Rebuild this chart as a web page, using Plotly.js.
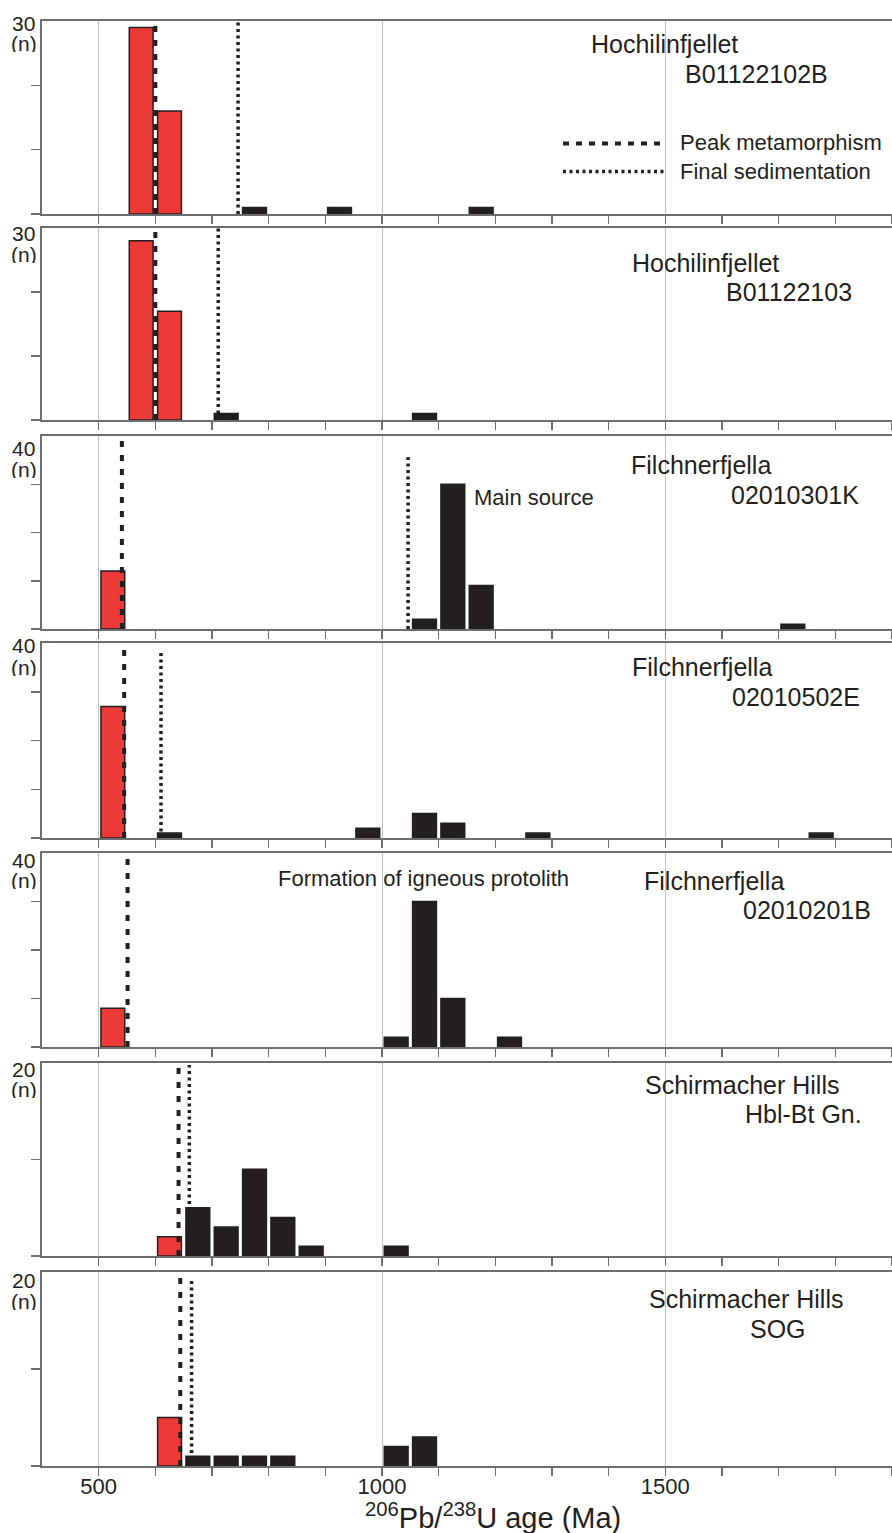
<!DOCTYPE html>
<html><head><meta charset="utf-8">
<script src="https://cdn.plot.ly/plotly-3.0.1.min.js"></script>
<style>html,body{margin:0;padding:0;background:#fff}</style>
</head><body><div id="chart" style="width:892px;height:1533px"></div>
<script>
// ---------------- data ----------------
const sampleSites = ['Hochilinfjellet','Hochilinfjellet','Filchnerfjella','Filchnerfjella','Filchnerfjella','Schirmacher Hills','Schirmacher Hills'];
const sampleIds = ['B01122102B','B01122103','02010301K','02010502E','02010201B','Hbl-Bt Gn.','SOG'];
const maxCount = [30,30,40,40,40,20,20];
// metamorphic (red) bins: bin-centre ages (Ma) and counts
const redBinAges = [[575,625],[575,625],[525],[525],[525],[625],[625]];
const redBinCounts = [[29,16],[28,17],[12],[27],[8],[2],[5]];
// detrital / inherited (black) bins
const blackBinAges = [[775,925,1175],[725,1075],[1075,1125,1175,1725],[625,975,1075,1125,1275,1775],[1025,1075,1125,1225],[675,725,775,825,875,1025],[675,725,775,825,1025,1075]];
const blackBinCounts = [[1,1,1],[1,1],[2,30,9,1],[1,2,5,3,1,1],[2,30,10,2],[5,3,9,4,1,1],[1,1,1,1,2,3]];
const peakMetamorphismAge = [600,600,541,545,551,641,644];
const finalSedimentationAge = [746,711,1046,610,null,660,664];
const xTickValues = [500,1000,1500];
const xTickLabels = ['500','1000','1500'];
const legendLabels = ['Peak metamorphism','Final sedimentation'];
const noteMainSource = 'Main source';
const noteProtolith = 'Formation of igneous protolith';
const xTitle = '<sup>206</sup>Pb/<sup>238</sup>U age (Ma)';

// ---------------- layout geometry ----------------
const W = 892, H = 1533, ML = 42, MT = 21, MB = 67;
const panelTopPx = [21,228,436,643,853,1063,1272];
const panelBottomPx = [214,420,629,838,1047,1256,1466];
const sedLineTopFrac = [1,1,0.907,0.957,null,0.99,0.955];
const plotH = H - MT - MB, plotW = W - ML;
const px2x = px => (px - ML) / plotW;
const px2y = py => (H - MB - py) / plotH;

const FONT = 'Liberation Sans, Arial, Helvetica, sans-serif';
const INK = '#231f20';
const RED = '#ee3a37';
const AXIS = '#6e6e6e';
const BAR_W = 42;

const traces = [];
const layout = {
  width: W, height: H,
  margin: {l: ML, r: 0, t: MT, b: MB, pad: 0},
  paper_bgcolor: '#ffffff', plot_bgcolor: '#ffffff',
  showlegend: false, barmode: 'overlay',
  font: {family: FONT, color: INK},
  shapes: [], annotations: []
};

const minorTicks = [];
for (let a = 500; a <= 1900; a += 100) minorTicks.push(a);

for (let i = 0; i < 7; i++) {
  const n = i + 1;
  const xa = 'x' + (n === 1 ? '' : n), ya = 'y' + (n === 1 ? '' : n);
  const xk = 'xaxis' + (n === 1 ? '' : n), yk = 'yaxis' + (n === 1 ? '' : n);
  traces.push({type: 'bar', x: redBinAges[i], y: redBinCounts[i], width: BAR_W,
    xaxis: xa, yaxis: ya, marker: {color: RED, line: {color: INK, width: 1.5}},
    name: sampleIds[i] + ' metamorphic', hoverinfo: 'x+y'});
  traces.push({type: 'bar', x: blackBinAges[i], y: blackBinCounts[i], width: BAR_W,
    xaxis: xa, yaxis: ya, marker: {color: INK, line: {color: INK, width: 1.5}},
    name: sampleIds[i] + ' detrital', hoverinfo: 'x+y'});

  const yTicks = [];
  for (let v = 0; v < maxCount[i]; v += 10) yTicks.push(v);

  layout[xk] = {
    domain: [0, 1], range: [400, 1900], anchor: ya, fixedrange: true,
    showline: true, linecolor: AXIS, linewidth: 2, mirror: true,
    ticks: 'outside', ticklen: 8, tickwidth: 1.5, tickcolor: AXIS,
    tickmode: 'array', tickvals: xTickValues, ticktext: xTickLabels,
    showticklabels: n === 7, ticklabelstandoff: -8,
    tickfont: {size: 22, color: INK, family: FONT},
    showgrid: true, gridcolor: '#c2c2c2', gridwidth: 1, zeroline: false,
    minor: {tickmode: 'array', tickvals: minorTicks, ticks: 'outside', ticklen: 8,
            tickwidth: 1.5, tickcolor: AXIS, showgrid: false}
  };
  layout[yk] = {
    domain: [px2y(panelBottomPx[i]), px2y(panelTopPx[i])], range: [0, maxCount[i]],
    anchor: xa, fixedrange: true,
    showline: true, linecolor: AXIS, linewidth: 2, mirror: true,
    ticks: 'outside', ticklen: 9, tickwidth: 1.5, tickcolor: AXIS,
    tickmode: 'array', tickvals: yTicks, showticklabels: false,
    showgrid: false, zeroline: false
  };

  // peak metamorphism (dashed)
  layout.shapes.push({type: 'line', xref: xa, yref: ya,
    x0: peakMetamorphismAge[i], x1: peakMetamorphismAge[i], y0: 0, y1: maxCount[i],
    line: {color: INK, width: 4, dash: '6px,8px'}});
  // final sedimentation (dotted)
  if (finalSedimentationAge[i] !== null) {
    layout.shapes.push({type: 'line', xref: xa, yref: ya,
      x0: finalSedimentationAge[i], x1: finalSedimentationAge[i], y0: 0,
      y1: maxCount[i] * sedLineTopFrac[i],
      line: {color: INK, width: 3.5, dash: '3px,3.5px'}});
  }
}

// count labels on y axes
const countLabelPx = [23,233,448,645,859.5,1069,1280];
const nLabelPx = [42.5,254,469,667,880,1089,1301];
for (let i = 0; i < 7; i++) {
  layout.annotations.push({xref: 'paper', yref: 'paper', x: px2x(35.5), y: px2y(countLabelPx[i]),
    xanchor: 'right', yanchor: 'middle', showarrow: false, text: String(maxCount[i]),
    height: 18, valign: 'middle', borderpad: 0,
    font: {size: 21, color: INK, family: FONT}});
  layout.annotations.push({xref: 'paper', yref: 'paper', x: px2x(38), y: px2y(nLabelPx[i]),
    xanchor: 'right', yanchor: 'middle', showarrow: false, text: '(n)',
    height: 18, valign: 'middle', borderpad: 0,
    font: {size: 21, color: INK, family: FONT}});
}

// sample labels
const siteLabelPx = [[589,44],[630,263],[629,465],[630,667],[642,881],[643,1085],[647,1299]];
const idLabelPx = [[683,74],[724,292],[729,495],[730,697],[741,910],[743,1114],[748,1329]];
for (let i = 0; i < 7; i++) {
  layout.annotations.push({xref: 'paper', yref: 'paper', x: px2x(siteLabelPx[i][0]), y: px2y(siteLabelPx[i][1]),
    xanchor: 'left', yanchor: 'middle', showarrow: false, text: sampleSites[i],
    font: {size: 25, color: INK, family: FONT}});
  layout.annotations.push({xref: 'paper', yref: 'paper', x: px2x(idLabelPx[i][0]), y: px2y(idLabelPx[i][1]),
    xanchor: 'left', yanchor: 'middle', showarrow: false, text: sampleIds[i],
    font: {size: 25, color: INK, family: FONT}});
}

// notes
layout.annotations.push({xref: 'paper', yref: 'paper', x: px2x(472), y: px2y(497),
  xanchor: 'left', yanchor: 'middle', showarrow: false, text: noteMainSource,
  font: {size: 22, color: INK, family: FONT}});
layout.annotations.push({xref: 'paper', yref: 'paper', x: px2x(276), y: px2y(878),
  xanchor: 'left', yanchor: 'middle', showarrow: false, text: noteProtolith,
  font: {size: 22, color: INK, family: FONT}});

// legend (drawn inside top panel)
layout.shapes.push({type: 'line', xref: 'paper', yref: 'paper',
  x0: px2x(563), x1: px2x(667), y0: px2y(143.5), y1: px2y(143.5),
  line: {color: INK, width: 4, dash: '6px,7px'}});
layout.shapes.push({type: 'line', xref: 'paper', yref: 'paper',
  x0: px2x(563), x1: px2x(667), y0: px2y(171.5), y1: px2y(171.5),
  line: {color: INK, width: 3.5, dash: '3px,3.5px'}});
layout.annotations.push({xref: 'paper', yref: 'paper', x: px2x(678), y: px2y(143),
  xanchor: 'left', yanchor: 'middle', showarrow: false, text: legendLabels[0],
  font: {size: 22, color: INK, family: FONT}});
layout.annotations.push({xref: 'paper', yref: 'paper', x: px2x(678), y: px2y(171),
  xanchor: 'left', yanchor: 'middle', showarrow: false, text: legendLabels[1],
  font: {size: 22, color: INK, family: FONT}});

// x-axis title
layout.annotations.push({xref: 'paper', yref: 'paper', x: px2x(493), y: px2y(1516),
  xanchor: 'center', yanchor: 'middle', showarrow: false, text: xTitle,
  font: {size: 29, color: INK, family: FONT}});

Plotly.newPlot('chart', traces, layout, {staticPlot: true, displayModeBar: false});
</script>
</body></html>
